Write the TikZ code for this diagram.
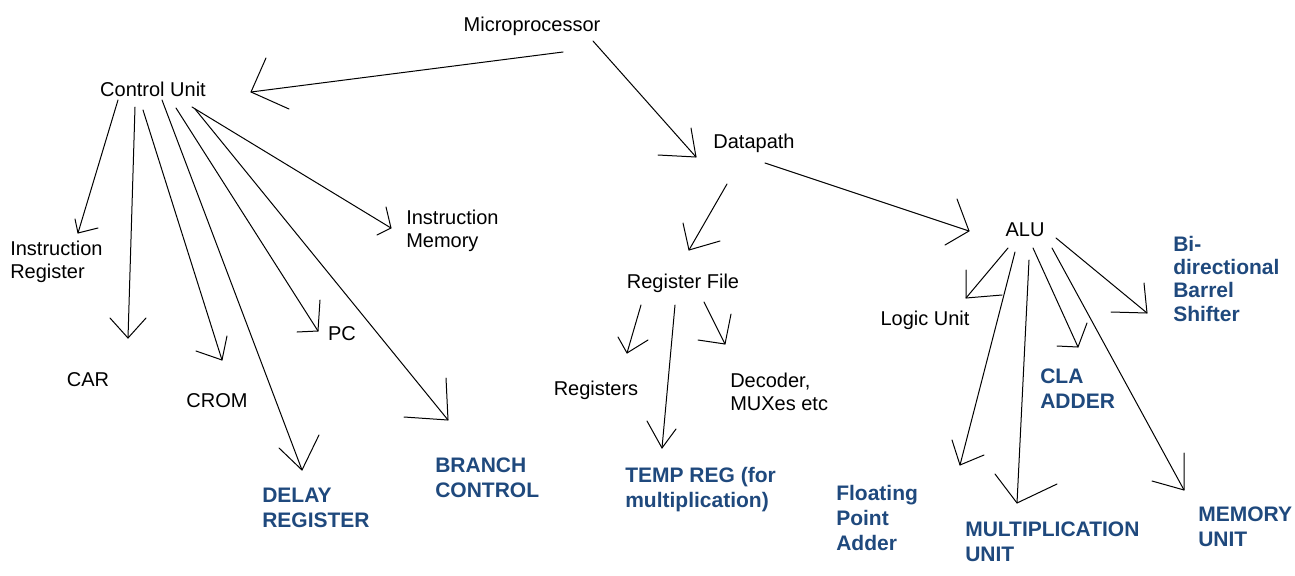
\documentclass[tikz,border=0pt]{standalone}
\usepackage{fontspec}
\setmainfont{Liberation Sans}
\definecolor{lblue}{RGB}{31,73,125}
\tikzset{
  blk/.style={inner sep=0pt, font=\fontsize{15}{17.25}\selectfont, text=black, align=left},
  blu/.style={inner sep=0pt, font=\fontsize{15.75}{18.75}\selectfont\bfseries, text=lblue, align=left},
  conn/.style={draw=black, line width=0.75pt, line cap=round, line join=round},
}
% name, tail, tip, barb1, barb2
\newcommand\handarrow[5]{%
  \coordinate (#1t) at (#2);
  \coordinate (#1h) at (#3);
  \coordinate (#1a) at (#4);
  \coordinate (#1b) at (#5);
  \draw[conn] (#1t) -- (#1h);
  \draw[conn] (#1a) -- (#1h) -- (#1b);
}
\begin{document}
\begin{tikzpicture}[x=0.75pt, y=-0.75pt]
\useasboundingbox (0,0) rectangle (1295,575);

% ---- text nodes ----
\node[blk] (mp) at (532,26) {Microprocessor};
\node[blk] (cu) at (153,89) {Control Unit};
\node[blk, anchor=west] (ir) at (10,261.5) {Instruction\\Register};
\node[blk, anchor=west] (im) at (406,230.5) {Instruction\\Memory};
\node[blk] (car) at (88,380) {CAR};
\node[blk] (crom) at (217,401) {CROM};
\node[blk] (pc) at (342,334) {PC};
\node[blu, anchor=west] (delay) at (262,507.5) {DELAY\\REGISTER};
\node[blu, anchor=west] (branch) at (435,477.5) {BRANCH\\CONTROL};
\node[blk] (dp) at (754,143) {Datapath};
\node[blk] (rf) at (683,283) {Register File};
\node[blk] (regs) at (596,390) {Registers};
\node[blk, anchor=west] (dec) at (730,392) {Decoder,\\MUXes etc};
\node[blu, anchor=west] (temp) at (625,490) {TEMP REG (for\\multiplication)};
\node[blk] (alu) at (1025,230) {ALU};
\node[blk] (logic) at (925,320) {Logic Unit};
\node[blu, anchor=west, font=\fontsize{15.75}{17.5}\selectfont\bfseries] (bs) at (1173,278.5) {Bi-\\directional\\Barrel\\Shifter};
\node[blu, anchor=west] (cla) at (1040,388.5) {CLA\\ADDER};
\node[blu, anchor=west] (fp) at (836,517.5) {Floating\\Point\\Adder};
\node[blu, anchor=west] (mult) at (965,541.5) {MULTIPLICATION\\UNIT};
\node[blu, anchor=west] (mem) at (1198,526.5) {MEMORY\\UNIT};

% ---- hand-drawn arrows ----
\handarrow{mpcu}{563,52}{251,92}{266,58}{289,109}
\handarrow{mpdp}{593,41}{696,157}{691,128}{658,155}
\handarrow{dpalu}{765,163}{969,231}{957,199}{945,245}
\handarrow{dprf}{727,184}{689,250}{683,223}{720,241}
\handarrow{rfregs}{641,305}{627,353}{618,337}{648,340}
\handarrow{rftemp}{675,305}{662,448}{647,421}{676,429}
\handarrow{rfdec}{704,302}{725,344}{731,314}{698,340}
\handarrow{cuir}{118,100}{78,233}{75,219}{98,228}
\handarrow{cucar}{135,107}{128,338}{110,318}{146,318}
\handarrow{cucrom}{143,110}{222,360}{227,336}{196,351}
\handarrow{cudelay}{162,100}{302,470}{319,435}{279,448}
\handarrow{cupc}{176,108}{318,331}{320,300}{297,332}
\handarrow{cubranch}{195,109}{448,420}{446,378}{404,417}
\handarrow{cuim}{192,107}{391,228}{386,207}{377,235}
\handarrow{alulogic}{1008,248}{966,298}{966,270}{1002,295}
\handarrow{alufp}{1015,252}{960,465}{952,440}{984,455}
\handarrow{alumult}{1029,260}{1017,503}{995,474}{1057,484}
\handarrow{alucla}{1033,248}{1078,347}{1087,323}{1057,346}
\handarrow{alumem}{1052,248}{1184,490}{1184,453}{1152,481}
\handarrow{alubs}{1056,238}{1147,313}{1144,283}{1111,312}
\end{tikzpicture}
\end{document}
